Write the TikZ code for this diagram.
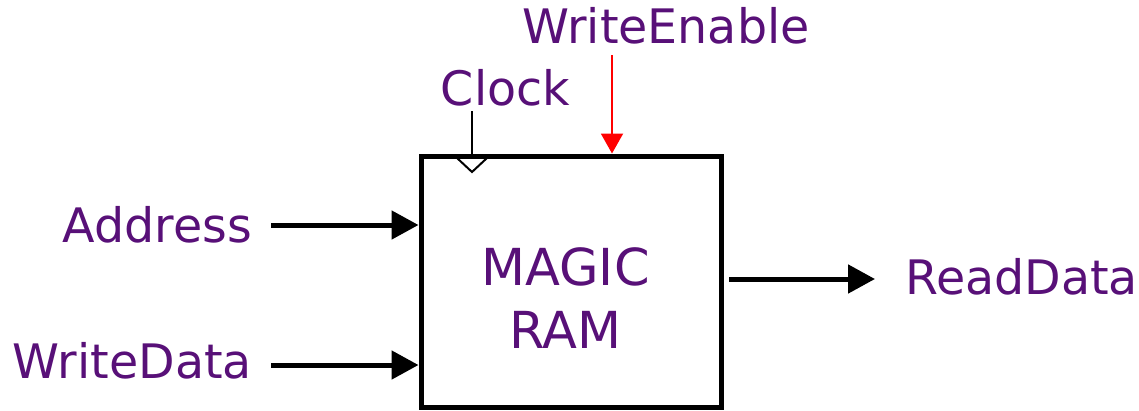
\documentclass[tikz,border=0pt]{standalone}
\usepackage{fontspec}
\setmainfont{DejaVu Sans}
\usetikzlibrary{arrows.meta}
\definecolor{lblpurple}{RGB}{88,16,120}
\begin{document}
\begin{tikzpicture}[x=1pt,y=-1pt,
  lbl/.style={text=lblpurple,font=\fontsize{47.5}{63}\selectfont,inner sep=0pt},
  biglbl/.style={text=lblpurple,font=\fontsize{51}{63}\selectfont,inner sep=0pt},
  ramblock/.style={draw=black,line width=5pt,minimum width=300pt,minimum height=251pt,inner sep=0pt},
  busarrow/.style={line width=5pt,-{Triangle[length=27pt,width=28pt]}},
  ctrlarrow/.style={red,line width=2pt,-{Triangle[length=20pt,width=22pt]}},
  clockline/.style={line width=2pt}]
\useasboundingbox (0,0) rectangle (1139,410);
\fill[white] (0,0) rectangle (1139,410);
\node[ramblock] (ram) at (571,281.5) {};
\node[biglbl,align=center,anchor=base] (ramtext) at (565.5,348) {MAGIC\\RAM};
\node[lbl,anchor=base east] (addr) at (252,242) {Address};
\node[lbl,anchor=base east] (wdata) at (252,378) {WriteData};
\node[lbl,anchor=base] (we) at (666,43) {WriteEnable};
\node[lbl,anchor=base] (clk) at (505.5,105) {Clock};
\node[lbl,anchor=base west] (rdata) at (905,294) {ReadData};
\coordinate (addrs) at (271,225);
\coordinate (wdatas) at (271,365);
\coordinate (wes) at (612,55);
\coordinate (clks) at (472,111);
\coordinate (rds) at (729,279);
\coordinate (rde) at (875,279);
\draw[busarrow] (addrs) -- (addrs -| ram.west);
\draw[busarrow] (wdatas) -- (wdatas -| ram.west);
\draw[busarrow] (rds) -- (rde);
\draw[ctrlarrow] (wes) -- (wes |- ram.north);
\draw[clockline] (clks) -- (clks |- ram.north);
\draw[clockline] (457,158) -- (472,172) -- (487,158);
\end{tikzpicture}
\end{document}
